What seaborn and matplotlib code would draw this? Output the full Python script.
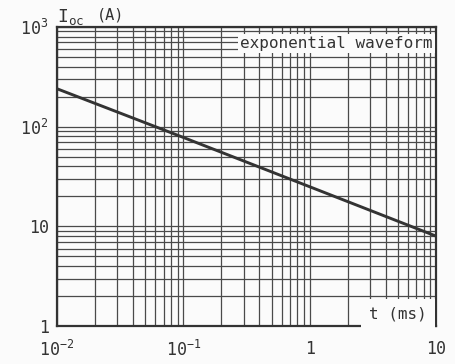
import matplotlib
matplotlib.use("Agg")
import numpy as np
import pandas as pd
import matplotlib.pyplot as plt
import seaborn as sns
from matplotlib.ticker import LogLocator, FixedLocator, NullFormatter

# values
t_ms = [0.01, 0.1, 1, 10]
i_oc = [240, 78, 25, 8]
x_ticks = [0.01, 0.1, 1, 10]
x_labels = ["10$^{-2}$", "10$^{-1}$", "1", "10"]
y_ticks = [1, 10, 100, 1000]
y_labels = ["1", "10", "10$^{2}$", "10$^{3}$"]

sns.set_theme(style="white")
plt.rcParams["font.family"] = ["DejaVu Sans Mono", "DejaVu Sans"]
plt.rcParams["mathtext.fontset"] = "custom"
plt.rcParams["mathtext.rm"] = "DejaVu Sans Mono"
plt.rcParams["mathtext.it"] = "DejaVu Sans Mono"

ink = "#333333"
df = pd.DataFrame({"t": t_ms, "I": i_oc})

fig = plt.figure(figsize=(4.56, 3.64), dpi=100)
fig.patch.set_facecolor("#fbfbfb")
ax = fig.add_axes([0.125, 0.104, 0.831, 0.822])
ax.set_facecolor("#fbfbfb")

sns.lineplot(data=df, x="t", y="I", color=ink, linewidth=2.1, ax=ax, zorder=3)

ax.set_xscale("log")
ax.set_yscale("log")
ax.set_xlim(0.01, 10)
ax.set_ylim(1, 1000)

ax.xaxis.set_major_locator(FixedLocator(x_ticks))
ax.yaxis.set_major_locator(FixedLocator(y_ticks))
ax.set_xticklabels(x_labels)
ax.set_yticklabels(y_labels)
ax.xaxis.set_minor_locator(LogLocator(base=10, subs=np.arange(2, 10), numticks=20))
ax.yaxis.set_minor_locator(LogLocator(base=10, subs=np.arange(2, 10), numticks=20))
ax.xaxis.set_minor_formatter(NullFormatter())
ax.yaxis.set_minor_formatter(NullFormatter())
ax.tick_params(which="both", length=0, labelsize=12, colors=ink)
ax.tick_params(axis="x", pad=10)
ax.tick_params(axis="y", pad=6)

ax.grid(True, which="both", color="#4a4a4a", linewidth=0.9)
ax.set_axisbelow(True)
for s in ax.spines.values():
    s.set_color(ink)
    s.set_linewidth(1.6)

ax.set_xlabel("")
ax.set_ylabel("")

ax.text(0.992, 0.946, "exponential waveform", transform=ax.transAxes,
        ha="right", va="center", fontsize=11.5, color=ink,
        bbox=dict(facecolor="#fbfbfb", edgecolor="none", pad=1.5), zorder=4)
ax.text(0.90, 0.04, "t (ms)", transform=ax.transAxes,
        ha="center", va="center", fontsize=11.5, color=ink,
        bbox=dict(boxstyle="square,pad=0.5", facecolor="#fbfbfb", edgecolor="none"),
        zorder=4)
fig.text(0.125, 0.952, r"I$_{\rm oc}$", ha="left", va="center",
         fontsize=13, color=ink)
fig.text(0.213, 0.96, "(A)", ha="left", va="center",
         fontsize=11, color=ink)

fig.savefig("out.png", dpi=100, facecolor=fig.get_facecolor())
